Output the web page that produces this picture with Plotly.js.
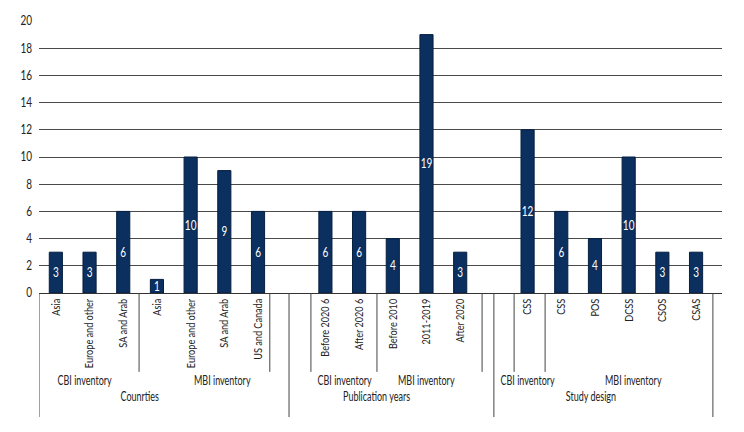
<!DOCTYPE html>
<html>
<head>
<meta charset="utf-8">
<script src="https://cdn.plot.ly/plotly-3.0.1.min.js"></script>
<style>
html,body{margin:0;padding:0;background:#fff;}
#chart{width:744px;height:432px;}
</style>
</head>
<body>
<div id="chart"></div>
<script>
// ---- data ----
const categories = ["Asia","Europe and other","SA and Arab","Asia","Europe and other","SA and Arab","US and Canada","",
                    "Before 2020 6","After 2020 6","Before 2010","2011-2019","After 2020","",
                    "CSS","CSS","POS","DCSS","CSOS","CSAS"];
const values = [3,3,6,1,10,9,6,null, 6,6,4,19,3,null, 12,6,4,10,3,3];
const level2Labels = ["CBI inventory","MBI inventory","CBI inventory","MBI inventory","CBI inventory","MBI inventory"];
const level3Labels = ["Counrties","Publication years","Study design"];
const yTicks = [0,2,4,6,8,10,12,14,16,18,20];

// ---- layout helpers (axis decoration positions, in category units) ----
const level2Pos = [0.87, 4.96, 8.58, 11.01, 14.01, 17.13];
const level3Pos = [2.5, 9.53, 15.88];
const longSeps = [-0.5, 6.92, 13.0, 19.5];
const medSeps = [2.47, 6.35, 7.57, 9.53, 12.65, 13.6, 14.52];

const FONT = 'Lato, Roboto, sans-serif';
const idx = categories.map((c,i)=>i);

const shapes = [];
longSeps.forEach(x=>shapes.push({type:'line',xref:'x',yref:'paper',x0:x,x1:x,y0:0,y1:-0.456,line:{color:'#444',width:1}}));
medSeps.forEach(x=>shapes.push({type:'line',xref:'x',yref:'paper',x0:x,x1:x,y0:0,y1:-0.29,line:{color:'#444',width:1}}));

const annotations = [];
level2Labels.forEach((t,i)=>annotations.push({text:t,x:level2Pos[i],xref:'x',y:-0.32,yref:'paper',showarrow:false,xanchor:'center',yanchor:'middle',font:{family:FONT,size:12.5,color:'#222'}}));
level3Labels.forEach((t,i)=>annotations.push({text:t,x:level3Pos[i],xref:'x',y:-0.382,yref:'paper',showarrow:false,xanchor:'center',yanchor:'middle',font:{family:FONT,size:12.5,color:'#222'}}));

const trace = {
  type:'bar',
  x: idx,
  y: values,
  text: values.map(v=> v==null ? '' : String(v)),
  textposition:'inside',
  insidetextanchor:'middle',
  constraintext:'none',
  textangle:0,
  textfont:{family:FONT,size:12.5,color:'#ffffff'},
  marker:{color:'#0b2f5e',line:{color:'#061f40',width:1}},
  hoverinfo:'none'
};

const layout = {
  width:744,height:432,
  margin:{l:39,r:22,t:21,b:139,pad:0},
  paper_bgcolor:'#fff',plot_bgcolor:'#fff',
  showlegend:false,
  bargap:0.61,
  font:{family:FONT,size:11,color:'#222'},
  xaxis:{
    range:[-0.5,19.77],
    tickmode:'array',tickvals:idx,ticktext:categories,
    tickangle:-90,ticks:'',showgrid:false,zeroline:false,
    showline:true,linecolor:'#333',linewidth:1,
    tickfont:{family:FONT,size:12,color:'#222'},
    fixedrange:true
  },
  yaxis:{
    range:[0,20],tickmode:'array',tickvals:yTicks,
    showgrid:true,gridcolor:'#4a4a4a',gridwidth:1,
    zeroline:false,showline:false,
    ticks:'',ticklabelstandoff:6,
    tickfont:{family:FONT,size:12.5,color:'#222'},
    fixedrange:true
  },
  shapes:shapes,
  annotations:annotations
};

// condense text horizontally to mimic a condensed face
function condense(sel, f){
  document.querySelectorAll(sel).forEach(t=>{
    const L = t.getComputedTextLength();
    if(L>0){ t.setAttribute('textLength', (L*f).toFixed(2)); t.setAttribute('lengthAdjust','spacingAndGlyphs'); }
  });
}
Plotly.newPlot('chart',[trace],layout,{staticPlot:true,displayModeBar:false}).then(()=>{
  condense('#chart .xtick text', 0.76);
  condense('#chart .ytick text', 0.8);
  condense('#chart .annotation-text', 0.72);
  condense('#chart text.bartext', 0.8);
});
</script>
</body>
</html>
